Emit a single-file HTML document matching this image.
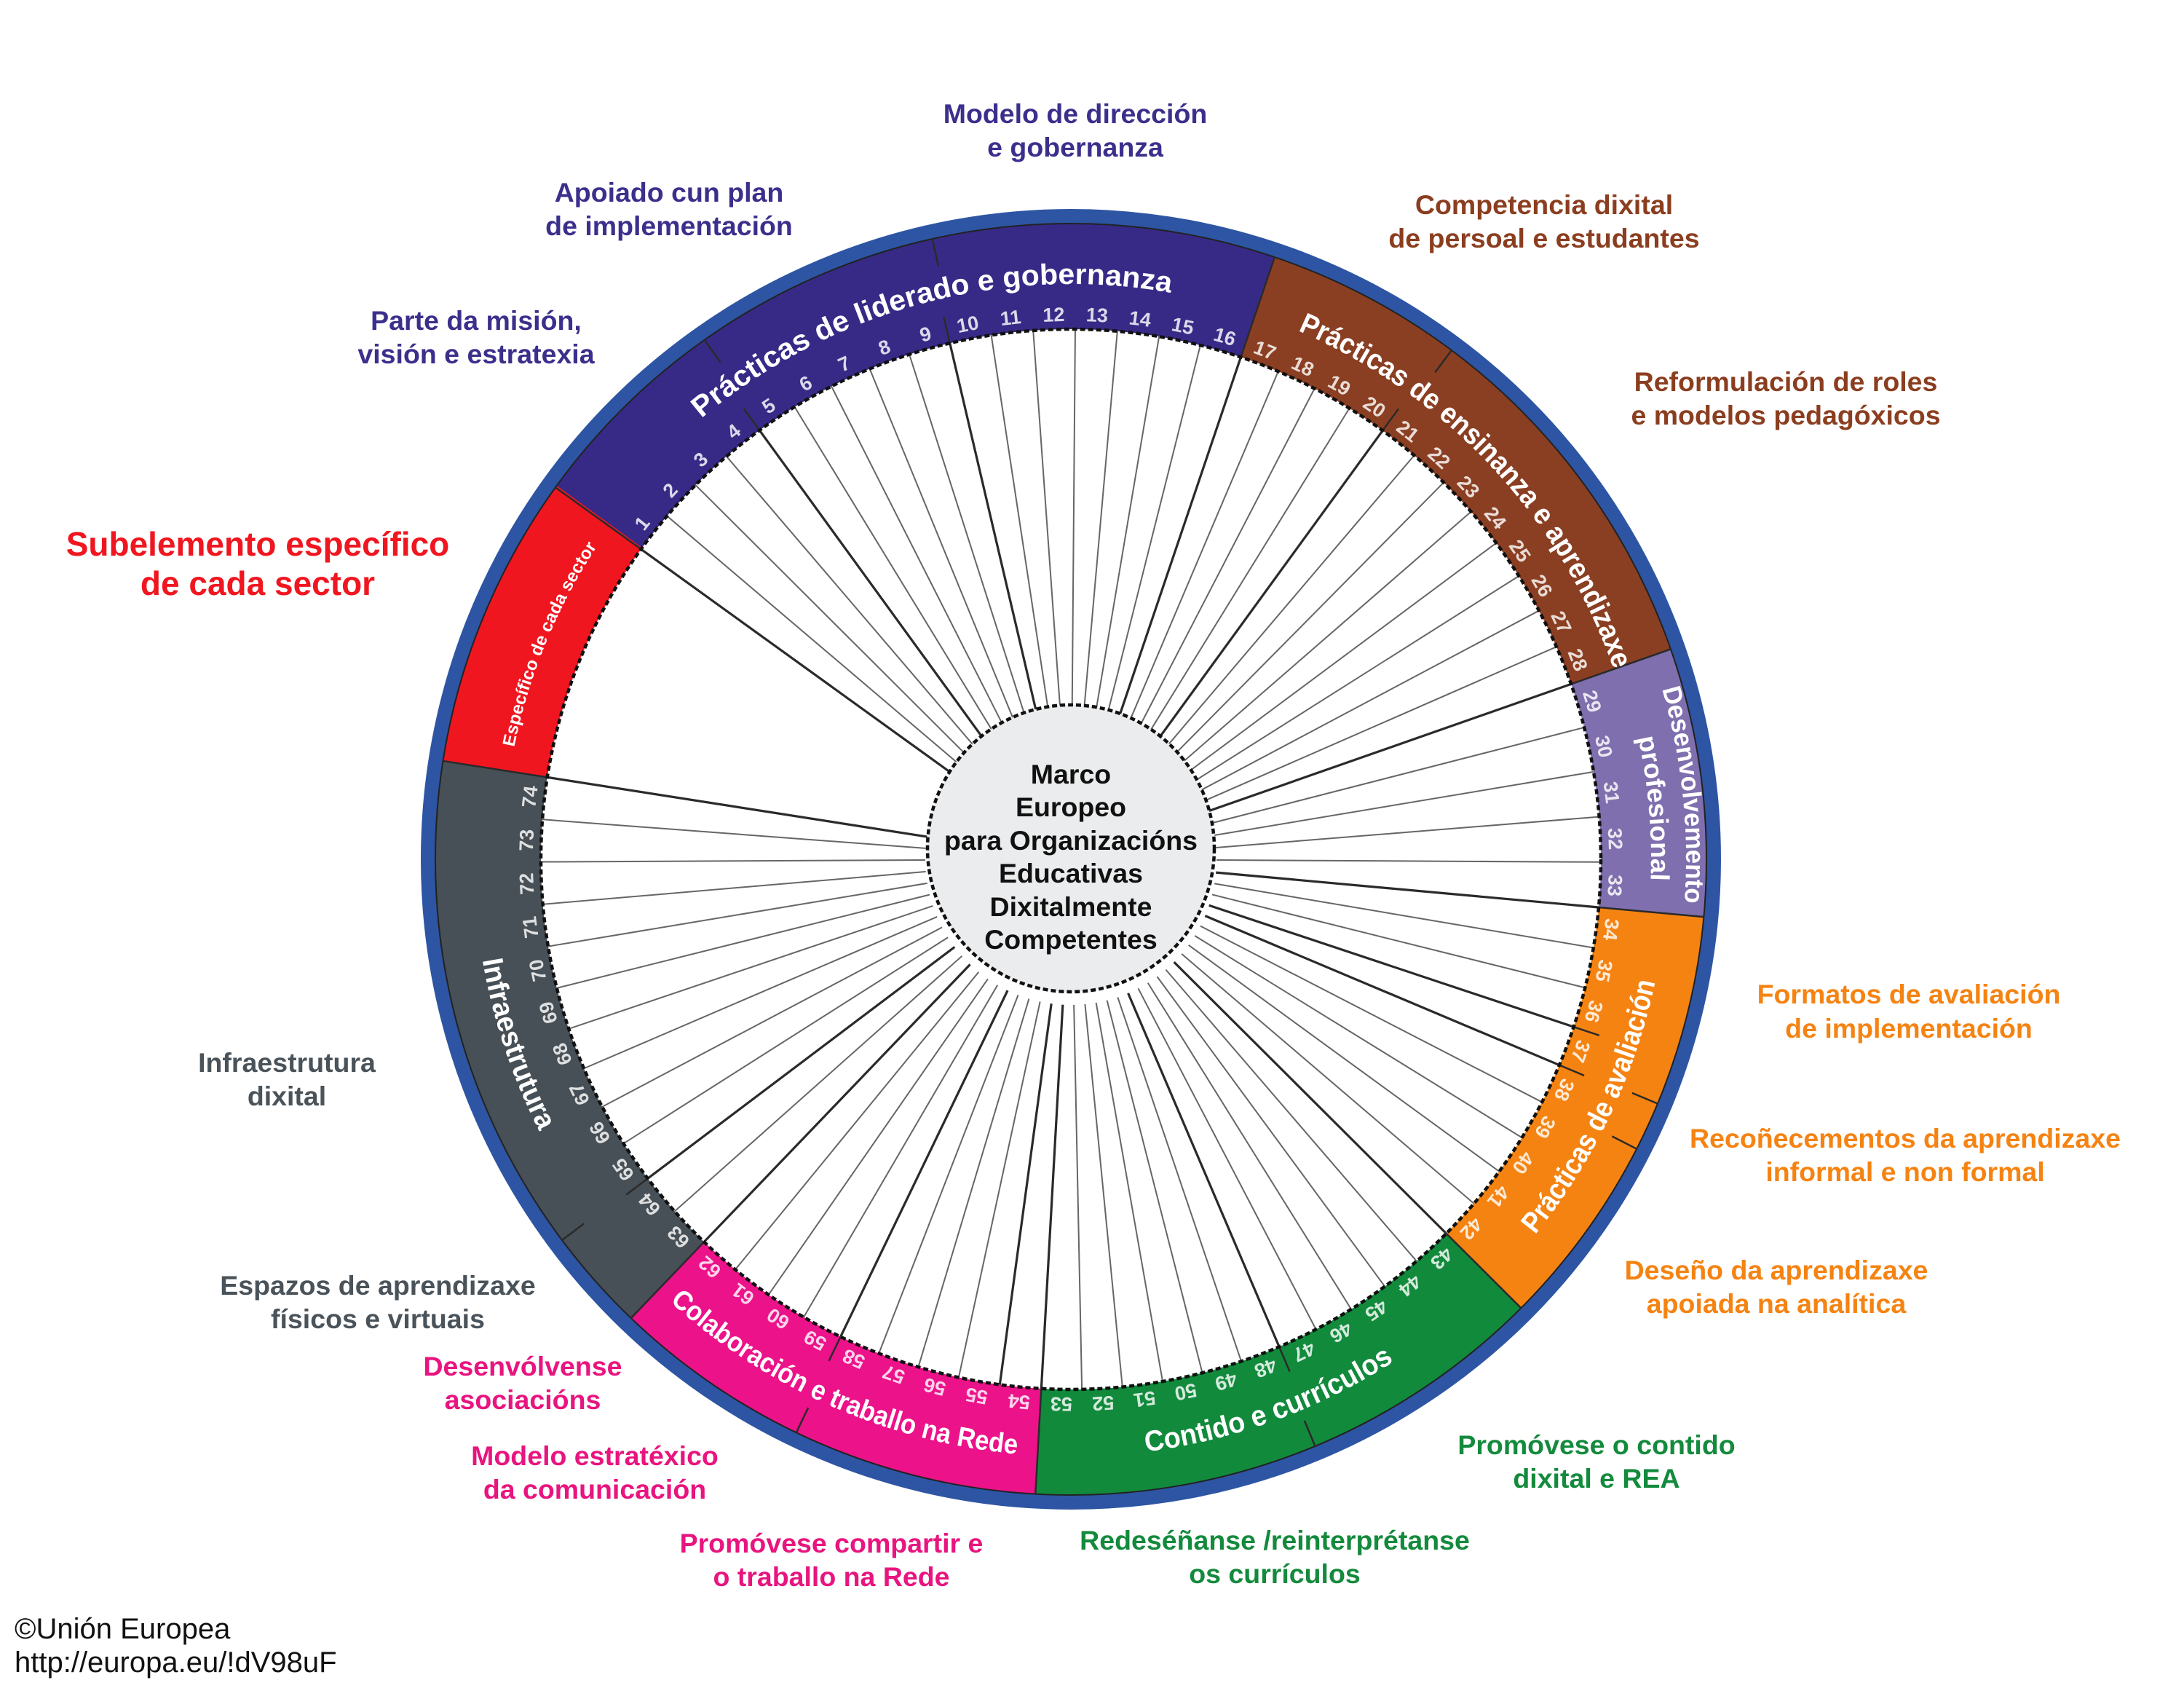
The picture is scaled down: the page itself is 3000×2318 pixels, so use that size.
<!DOCTYPE html>
<html><head><meta charset="utf-8"><style>
html,body{margin:0;padding:0;background:#fff;}
svg{display:block;}
text{font-family:"Liberation Sans","DejaVu Sans",sans-serif;}
.lab{font-weight:bold;font-size:37.5px;text-anchor:middle;}
.num{font-weight:bold;font-size:27px;fill:#fff;fill-opacity:0.82;text-anchor:middle;dominant-baseline:central;}
.tt{font-weight:bold;fill:#fff;}
</style></head><body>
<svg width="3000" height="2318" viewBox="0 0 3000 2318" xmlns="http://www.w3.org/2000/svg">
<defs>
<path id="cw790" d="M1471 1970 A790 790 0 0 1 1471 390 A790 790 0 0 1 1471 1970"/>
<path id="cw780" d="M1471 1960 A780 780 0 0 1 1471 400 A780 780 0 0 1 1471 1960"/>
<path id="cw845" d="M1471 2025 A845 845 0 0 1 1471 335 A845 845 0 0 1 1471 2025"/>
<path id="cw797" d="M1471 1977 A797 797 0 0 1 1471 383 A797 797 0 0 1 1471 1977"/>
<path id="ccw820" d="M1471 360 A820 820 0 0 0 1471 2000 A820 820 0 0 0 1471 360"/>
</defs>
<rect width="3000" height="2318" fill="#fff"/>
<circle cx="1471" cy="1180" r="883" fill="none" stroke="#2d55a3" stroke-width="20"/>
<g fill="none" stroke-width="146">
<circle cx="1471" cy="1180" r="800.5" stroke="#372a87" stroke-dasharray="1018.5 6000" transform="rotate(-144.2 1471 1180)"/>
<circle cx="1471" cy="1180" r="800.5" stroke="#8b3f22" stroke-dasharray="726.5 6000" transform="rotate(-71.3 1471 1180)"/>
<circle cx="1471" cy="1180" r="800.5" stroke="#7f6fae" stroke-dasharray="342.3 6000" transform="rotate(-19.3 1471 1180)"/>
<circle cx="1471" cy="1180" r="800.5" stroke="#f58312" stroke-dasharray="554.6 6000" transform="rotate(5.2 1471 1180)"/>
<circle cx="1471" cy="1180" r="800.5" stroke="#128a3c" stroke-dasharray="674.8 6000" transform="rotate(44.9 1471 1180)"/>
<circle cx="1471" cy="1180" r="800.5" stroke="#ec128a" stroke-dasharray="567.2 6000" transform="rotate(93.2 1471 1180)"/>
<circle cx="1471" cy="1180" r="800.5" stroke="#475056" stroke-dasharray="769.8 6000" transform="rotate(133.8 1471 1180)"/>
<circle cx="1471" cy="1180" r="800.5" stroke="#f01620" stroke-dasharray="378.6 6000" transform="rotate(188.9 1471 1180)"/>
</g>
<circle cx="1471" cy="1180" r="873" fill="none" stroke="#222" stroke-width="2"/>
<circle cx="1471" cy="1180" r="728" fill="#fff"/>
<g stroke="#2a2a2a" stroke-width="2.5">
<line x1="1471" y1="452" x2="1471" y2="307" transform="rotate(-54.2 1471 1180)"/>
<line x1="1471" y1="452" x2="1471" y2="307" transform="rotate(18.7 1471 1180)"/>
<line x1="1471" y1="452" x2="1471" y2="307" transform="rotate(70.7 1471 1180)"/>
<line x1="1471" y1="452" x2="1471" y2="307" transform="rotate(95.2 1471 1180)"/>
<line x1="1471" y1="452" x2="1471" y2="307" transform="rotate(134.9 1471 1180)"/>
<line x1="1471" y1="452" x2="1471" y2="307" transform="rotate(183.2 1471 1180)"/>
<line x1="1471" y1="452" x2="1471" y2="307" transform="rotate(223.8 1471 1180)"/>
<line x1="1471" y1="452" x2="1471" y2="307" transform="rotate(278.9 1471 1180)"/>
<line x1="1471" y1="345" x2="1471" y2="307" transform="rotate(-35.2 1471 1180)"/>
<line x1="1471" y1="345" x2="1471" y2="307" transform="rotate(-12.6 1471 1180)"/>
<line x1="1471" y1="345" x2="1471" y2="307" transform="rotate(36.8 1471 1180)"/>
<line x1="1471" y1="345" x2="1471" y2="307" transform="rotate(112.6 1471 1180)"/>
<line x1="1471" y1="345" x2="1471" y2="307" transform="rotate(117.1 1471 1180)"/>
<line x1="1471" y1="345" x2="1471" y2="307" transform="rotate(157.4 1471 1180)"/>
<line x1="1471" y1="345" x2="1471" y2="307" transform="rotate(205.6 1471 1180)"/>
<line x1="1471" y1="345" x2="1471" y2="307" transform="rotate(233.2 1471 1180)"/>
<line x1="1471" y1="452" x2="1471" y2="415" transform="rotate(-35.98 1471 1180)"/>
<line x1="1471" y1="452" x2="1471" y2="415" transform="rotate(-13.2 1471 1180)"/>
<line x1="1471" y1="452" x2="1471" y2="415" transform="rotate(36.03 1471 1180)"/>
<line x1="1471" y1="452" x2="1471" y2="415" transform="rotate(108.43 1471 1180)"/>
<line x1="1471" y1="452" x2="1471" y2="415" transform="rotate(112.84 1471 1180)"/>
<line x1="1471" y1="452" x2="1471" y2="415" transform="rotate(156.86 1471 1180)"/>
<line x1="1471" y1="452" x2="1471" y2="415" transform="rotate(205.76 1471 1180)"/>
<line x1="1471" y1="452" x2="1471" y2="415" transform="rotate(232.98 1471 1180)"/>
</g>
<g stroke="#666" stroke-width="2">
<line x1="1471" y1="452" x2="1471" y2="980" transform="rotate(-49.64 1471 1180)"/>
<line x1="1471" y1="452" x2="1471" y2="980" transform="rotate(-45.09 1471 1180)"/>
<line x1="1471" y1="452" x2="1471" y2="980" transform="rotate(-40.53 1471 1180)"/>
<line x1="1471" y1="452" x2="1471" y2="980" transform="rotate(-31.42 1471 1180)"/>
<line x1="1471" y1="452" x2="1471" y2="980" transform="rotate(-26.86 1471 1180)"/>
<line x1="1471" y1="452" x2="1471" y2="980" transform="rotate(-22.31 1471 1180)"/>
<line x1="1471" y1="452" x2="1471" y2="980" transform="rotate(-17.75 1471 1180)"/>
<line x1="1471" y1="452" x2="1471" y2="980" transform="rotate(-8.64 1471 1180)"/>
<line x1="1471" y1="452" x2="1471" y2="980" transform="rotate(-4.08 1471 1180)"/>
<line x1="1471" y1="452" x2="1471" y2="980" transform="rotate(0.47 1471 1180)"/>
<line x1="1471" y1="452" x2="1471" y2="980" transform="rotate(5.03 1471 1180)"/>
<line x1="1471" y1="452" x2="1471" y2="980" transform="rotate(9.58 1471 1180)"/>
<line x1="1471" y1="452" x2="1471" y2="980" transform="rotate(14.14 1471 1180)"/>
<line x1="1471" y1="452" x2="1471" y2="980" transform="rotate(23.03 1471 1180)"/>
<line x1="1471" y1="452" x2="1471" y2="980" transform="rotate(27.37 1471 1180)"/>
<line x1="1471" y1="452" x2="1471" y2="980" transform="rotate(31.7 1471 1180)"/>
<line x1="1471" y1="452" x2="1471" y2="980" transform="rotate(40.37 1471 1180)"/>
<line x1="1471" y1="452" x2="1471" y2="980" transform="rotate(44.7 1471 1180)"/>
<line x1="1471" y1="452" x2="1471" y2="980" transform="rotate(49.03 1471 1180)"/>
<line x1="1471" y1="452" x2="1471" y2="980" transform="rotate(53.37 1471 1180)"/>
<line x1="1471" y1="452" x2="1471" y2="980" transform="rotate(57.7 1471 1180)"/>
<line x1="1471" y1="452" x2="1471" y2="980" transform="rotate(62.03 1471 1180)"/>
<line x1="1471" y1="452" x2="1471" y2="980" transform="rotate(66.37 1471 1180)"/>
<line x1="1471" y1="452" x2="1471" y2="980" transform="rotate(75.6 1471 1180)"/>
<line x1="1471" y1="452" x2="1471" y2="980" transform="rotate(80.5 1471 1180)"/>
<line x1="1471" y1="452" x2="1471" y2="980" transform="rotate(85.4 1471 1180)"/>
<line x1="1471" y1="452" x2="1471" y2="980" transform="rotate(90.3 1471 1180)"/>
<line x1="1471" y1="452" x2="1471" y2="980" transform="rotate(99.61 1471 1180)"/>
<line x1="1471" y1="452" x2="1471" y2="980" transform="rotate(104.02 1471 1180)"/>
<line x1="1471" y1="452" x2="1471" y2="980" transform="rotate(117.26 1471 1180)"/>
<line x1="1471" y1="452" x2="1471" y2="980" transform="rotate(121.67 1471 1180)"/>
<line x1="1471" y1="452" x2="1471" y2="980" transform="rotate(126.08 1471 1180)"/>
<line x1="1471" y1="452" x2="1471" y2="980" transform="rotate(130.49 1471 1180)"/>
<line x1="1471" y1="452" x2="1471" y2="980" transform="rotate(139.29 1471 1180)"/>
<line x1="1471" y1="452" x2="1471" y2="980" transform="rotate(143.68 1471 1180)"/>
<line x1="1471" y1="452" x2="1471" y2="980" transform="rotate(148.07 1471 1180)"/>
<line x1="1471" y1="452" x2="1471" y2="980" transform="rotate(152.46 1471 1180)"/>
<line x1="1471" y1="452" x2="1471" y2="980" transform="rotate(161.25 1471 1180)"/>
<line x1="1471" y1="452" x2="1471" y2="980" transform="rotate(165.64 1471 1180)"/>
<line x1="1471" y1="452" x2="1471" y2="980" transform="rotate(170.03 1471 1180)"/>
<line x1="1471" y1="452" x2="1471" y2="980" transform="rotate(174.42 1471 1180)"/>
<line x1="1471" y1="452" x2="1471" y2="980" transform="rotate(178.81 1471 1180)"/>
<line x1="1471" y1="452" x2="1471" y2="980" transform="rotate(192.22 1471 1180)"/>
<line x1="1471" y1="452" x2="1471" y2="980" transform="rotate(196.73 1471 1180)"/>
<line x1="1471" y1="452" x2="1471" y2="980" transform="rotate(201.24 1471 1180)"/>
<line x1="1471" y1="452" x2="1471" y2="980" transform="rotate(210.27 1471 1180)"/>
<line x1="1471" y1="452" x2="1471" y2="980" transform="rotate(214.78 1471 1180)"/>
<line x1="1471" y1="452" x2="1471" y2="980" transform="rotate(219.29 1471 1180)"/>
<line x1="1471" y1="452" x2="1471" y2="980" transform="rotate(228.39 1471 1180)"/>
<line x1="1471" y1="452" x2="1471" y2="980" transform="rotate(237.58 1471 1180)"/>
<line x1="1471" y1="452" x2="1471" y2="980" transform="rotate(242.17 1471 1180)"/>
<line x1="1471" y1="452" x2="1471" y2="980" transform="rotate(246.76 1471 1180)"/>
<line x1="1471" y1="452" x2="1471" y2="980" transform="rotate(251.35 1471 1180)"/>
<line x1="1471" y1="452" x2="1471" y2="980" transform="rotate(255.94 1471 1180)"/>
<line x1="1471" y1="452" x2="1471" y2="980" transform="rotate(260.54 1471 1180)"/>
<line x1="1471" y1="452" x2="1471" y2="980" transform="rotate(265.13 1471 1180)"/>
<line x1="1471" y1="452" x2="1471" y2="980" transform="rotate(269.72 1471 1180)"/>
<line x1="1471" y1="452" x2="1471" y2="980" transform="rotate(274.31 1471 1180)"/>
</g>
<g stroke="#2a2a2a" stroke-width="3.2">
<line x1="1471" y1="452" x2="1471" y2="980" transform="rotate(-54.2 1471 1180)"/>
<line x1="1471" y1="452" x2="1471" y2="980" transform="rotate(-35.98 1471 1180)"/>
<line x1="1471" y1="452" x2="1471" y2="980" transform="rotate(-13.2 1471 1180)"/>
<line x1="1471" y1="452" x2="1471" y2="980" transform="rotate(18.7 1471 1180)"/>
<line x1="1471" y1="452" x2="1471" y2="980" transform="rotate(36.03 1471 1180)"/>
<line x1="1471" y1="452" x2="1471" y2="980" transform="rotate(70.7 1471 1180)"/>
<line x1="1471" y1="452" x2="1471" y2="980" transform="rotate(95.2 1471 1180)"/>
<line x1="1471" y1="452" x2="1471" y2="980" transform="rotate(108.43 1471 1180)"/>
<line x1="1471" y1="452" x2="1471" y2="980" transform="rotate(112.84 1471 1180)"/>
<line x1="1471" y1="452" x2="1471" y2="980" transform="rotate(134.9 1471 1180)"/>
<line x1="1471" y1="452" x2="1471" y2="980" transform="rotate(156.86 1471 1180)"/>
<line x1="1471" y1="452" x2="1471" y2="980" transform="rotate(183.2 1471 1180)"/>
<line x1="1471" y1="452" x2="1471" y2="980" transform="rotate(187.71 1471 1180)"/>
<line x1="1471" y1="452" x2="1471" y2="980" transform="rotate(205.76 1471 1180)"/>
<line x1="1471" y1="452" x2="1471" y2="980" transform="rotate(223.8 1471 1180)"/>
<line x1="1471" y1="452" x2="1471" y2="980" transform="rotate(232.98 1471 1180)"/>
<line x1="1471" y1="452" x2="1471" y2="980" transform="rotate(278.9 1471 1180)"/>
</g>
<circle cx="1471" cy="1180" r="728" fill="none" stroke="#111" stroke-width="4.5" stroke-dasharray="7 4"/>
<circle cx="1471" cy="1165" r="197" fill="#ebeced" stroke="#111" stroke-width="4.5" stroke-dasharray="7 4"/>
<g font-weight="bold" font-size="37.5" text-anchor="middle" fill="#111">
<text x="1471" y="1076">Marco</text>
<text x="1471" y="1121">Europeo</text>
<text x="1471" y="1167">para Organizacións</text>
<text x="1471" y="1212">Educativas</text>
<text x="1471" y="1258">Dixitalmente</text>
<text x="1471" y="1303">Competentes</text>
</g>
<g class="num">
<text class="num" x="1471" y="432" transform="rotate(-51.92 1471 1180)">1</text>
<text class="num" x="1471" y="432" transform="rotate(-47.37 1471 1180)">2</text>
<text class="num" x="1471" y="432" transform="rotate(-42.81 1471 1180)">3</text>
<text class="num" x="1471" y="432" transform="rotate(-38.26 1471 1180)">4</text>
<text class="num" x="1471" y="432" transform="rotate(-33.70 1471 1180)">5</text>
<text class="num" x="1471" y="432" transform="rotate(-29.14 1471 1180)">6</text>
<text class="num" x="1471" y="432" transform="rotate(-24.59 1471 1180)">7</text>
<text class="num" x="1471" y="432" transform="rotate(-20.03 1471 1180)">8</text>
<text class="num" x="1471" y="432" transform="rotate(-15.48 1471 1180)">9</text>
<text class="num" x="1471" y="432" transform="rotate(-10.92 1471 1180)">10</text>
<text class="num" x="1471" y="432" transform="rotate(-6.36 1471 1180)">11</text>
<text class="num" x="1471" y="432" transform="rotate(-1.81 1471 1180)">12</text>
<text class="num" x="1471" y="432" transform="rotate(2.75 1471 1180)">13</text>
<text class="num" x="1471" y="432" transform="rotate(7.30 1471 1180)">14</text>
<text class="num" x="1471" y="432" transform="rotate(11.86 1471 1180)">15</text>
<text class="num" x="1471" y="432" transform="rotate(16.42 1471 1180)">16</text>
<text class="num" x="1471" y="432" transform="rotate(20.87 1471 1180)">17</text>
<text class="num" x="1471" y="432" transform="rotate(25.2 1471 1180)">18</text>
<text class="num" x="1471" y="432" transform="rotate(29.53 1471 1180)">19</text>
<text class="num" x="1471" y="432" transform="rotate(33.87 1471 1180)">20</text>
<text class="num" x="1471" y="432" transform="rotate(38.2 1471 1180)">21</text>
<text class="num" x="1471" y="432" transform="rotate(42.53 1471 1180)">22</text>
<text class="num" x="1471" y="432" transform="rotate(46.87 1471 1180)">23</text>
<text class="num" x="1471" y="432" transform="rotate(51.2 1471 1180)">24</text>
<text class="num" x="1471" y="432" transform="rotate(55.53 1471 1180)">25</text>
<text class="num" x="1471" y="432" transform="rotate(59.87 1471 1180)">26</text>
<text class="num" x="1471" y="432" transform="rotate(64.2 1471 1180)">27</text>
<text class="num" x="1471" y="432" transform="rotate(68.53 1471 1180)">28</text>
<text class="num" x="1471" y="432" transform="rotate(73.15 1471 1180)">29</text>
<text class="num" x="1471" y="432" transform="rotate(78.05 1471 1180)">30</text>
<text class="num" x="1471" y="432" transform="rotate(82.95 1471 1180)">31</text>
<text class="num" x="1471" y="432" transform="rotate(87.85 1471 1180)">32</text>
<text class="num" x="1471" y="432" transform="rotate(92.75 1471 1180)">33</text>
<text class="num" x="1471" y="432" transform="rotate(97.41 1471 1180)">34</text>
<text class="num" x="1471" y="432" transform="rotate(101.82 1471 1180)">35</text>
<text class="num" x="1471" y="432" transform="rotate(106.23 1471 1180)">36</text>
<text class="num" x="1471" y="432" transform="rotate(110.64 1471 1180)">37</text>
<text class="num" x="1471" y="432" transform="rotate(115.05 1471 1180)">38</text>
<text class="num" x="1471" y="432" transform="rotate(119.46 1471 1180)">39</text>
<text class="num" x="1471" y="432" transform="rotate(123.87 1471 1180)">40</text>
<text class="num" x="1471" y="432" transform="rotate(128.28 1471 1180)">41</text>
<text class="num" x="1471" y="432" transform="rotate(132.69 1471 1180)">42</text>
<text class="num" x="1471" y="432" transform="rotate(137.1 1471 1180)">43</text>
<text class="num" x="1471" y="432" transform="rotate(141.49 1471 1180)">44</text>
<text class="num" x="1471" y="432" transform="rotate(145.88 1471 1180)">45</text>
<text class="num" x="1471" y="432" transform="rotate(150.27 1471 1180)">46</text>
<text class="num" x="1471" y="432" transform="rotate(154.66 1471 1180)">47</text>
<text class="num" x="1471" y="432" transform="rotate(159.05 1471 1180)">48</text>
<text class="num" x="1471" y="432" transform="rotate(163.44 1471 1180)">49</text>
<text class="num" x="1471" y="432" transform="rotate(167.83 1471 1180)">50</text>
<text class="num" x="1471" y="432" transform="rotate(172.22 1471 1180)">51</text>
<text class="num" x="1471" y="432" transform="rotate(176.61 1471 1180)">52</text>
<text class="num" x="1471" y="432" transform="rotate(181.0 1471 1180)">53</text>
<text class="num" x="1471" y="432" transform="rotate(185.46 1471 1180)">54</text>
<text class="num" x="1471" y="432" transform="rotate(189.97 1471 1180)">55</text>
<text class="num" x="1471" y="432" transform="rotate(194.48 1471 1180)">56</text>
<text class="num" x="1471" y="432" transform="rotate(198.99 1471 1180)">57</text>
<text class="num" x="1471" y="432" transform="rotate(203.5 1471 1180)">58</text>
<text class="num" x="1471" y="432" transform="rotate(208.01 1471 1180)">59</text>
<text class="num" x="1471" y="432" transform="rotate(212.52 1471 1180)">60</text>
<text class="num" x="1471" y="432" transform="rotate(217.03 1471 1180)">61</text>
<text class="num" x="1471" y="432" transform="rotate(221.54 1471 1180)">62</text>
<text class="num" x="1471" y="432" transform="rotate(226.1 1471 1180)">63</text>
<text class="num" x="1471" y="432" transform="rotate(230.69 1471 1180)">64</text>
<text class="num" x="1471" y="432" transform="rotate(235.28 1471 1180)">65</text>
<text class="num" x="1471" y="432" transform="rotate(239.87 1471 1180)">66</text>
<text class="num" x="1471" y="432" transform="rotate(244.46 1471 1180)">67</text>
<text class="num" x="1471" y="432" transform="rotate(249.05 1471 1180)">68</text>
<text class="num" x="1471" y="432" transform="rotate(253.65 1471 1180)">69</text>
<text class="num" x="1471" y="432" transform="rotate(258.24 1471 1180)">70</text>
<text class="num" x="1471" y="432" transform="rotate(262.83 1471 1180)">71</text>
<text class="num" x="1471" y="432" transform="rotate(267.42 1471 1180)">72</text>
<text class="num" x="1471" y="432" transform="rotate(272.01 1471 1180)">73</text>
<text class="num" x="1471" y="432" transform="rotate(276.6 1471 1180)">74</text>
</g>
<g class="tt" text-anchor="middle">
<g transform="rotate(-15 1471 1180)"><text font-size="40"><textPath href="#cw790" startOffset="50%" textLength="689" lengthAdjust="spacingAndGlyphs">Prácticas de liderado e gobernanza</textPath></text></g>
<g transform="rotate(47 1471 1180)"><text font-size="40"><textPath href="#cw790" startOffset="50%" textLength="655" lengthAdjust="spacingAndGlyphs">Prácticas de ensinanza e aprendizaxe</textPath></text></g>
<g transform="rotate(84 1471 1180)"><text font-size="36"><textPath href="#cw845" startOffset="50%" textLength="297" lengthAdjust="spacingAndGlyphs">Desenvolvemento</textPath></text></g>
<g transform="rotate(85 1471 1180)"><text font-size="36"><textPath href="#cw797" startOffset="50%" textLength="198" lengthAdjust="spacingAndGlyphs">profesional</textPath></text></g>
<g transform="rotate(292.4 1471 1180)"><text font-size="24"><textPath href="#cw780" startOffset="50%" textLength="300" lengthAdjust="spacingAndGlyphs">Específico de cada sector</textPath></text></g>
<g transform="rotate(-64.6 1471 1180)"><text font-size="40"><textPath href="#ccw820" startOffset="50%" textLength="388" lengthAdjust="spacingAndGlyphs">Prácticas de avaliación</textPath></text></g>
<g transform="rotate(-20 1471 1180)"><text font-size="40"><textPath href="#ccw820" startOffset="50%" textLength="366" lengthAdjust="spacingAndGlyphs">Contido e currículos</textPath></text></g>
<g transform="rotate(23.7 1471 1180)"><text font-size="38"><textPath href="#ccw820" startOffset="50%" textLength="530" lengthAdjust="spacingAndGlyphs">Colaboración e traballo na Rede</textPath></text></g>
<g transform="rotate(71.6 1471 1180)"><text font-size="40"><textPath href="#ccw820" startOffset="50%" textLength="249" lengthAdjust="spacingAndGlyphs">Infraestrutura</textPath></text></g>
</g>
<g fill="#3b2f8c">
<text class="lab" x="1477" y="169">Modelo de dirección</text>
<text class="lab" x="1477" y="215">e gobernanza</text>
<text class="lab" x="919" y="277">Apoiado cun plan</text>
<text class="lab" x="919" y="323">de implementación</text>
<text class="lab" x="654" y="453">Parte da misión,</text>
<text class="lab" x="654" y="499">visión e estratexia</text>
</g>
<g fill="#8b3e1f">
<text class="lab" x="2121" y="294">Competencia dixital</text>
<text class="lab" x="2121" y="340">de persoal e estudantes</text>
<text class="lab" x="2453" y="537">Reformulación de roles</text>
<text class="lab" x="2453" y="583">e modelos pedagóxicos</text>
</g>
<g fill="#f01620">
<text class="lab" style="font-size:46px" x="354" y="763">Subelemento específico</text>
<text class="lab" style="font-size:46px" x="354" y="817">de cada sector</text>
</g>
<g fill="#f58312">
<text class="lab" x="2622" y="1378">Formatos de avaliación</text>
<text class="lab" x="2622" y="1425">de implementación</text>
<text class="lab" x="2617" y="1576">Recoñecementos da aprendizaxe</text>
<text class="lab" x="2617" y="1622">informal e non formal</text>
<text class="lab" x="2440" y="1757">Deseño da aprendizaxe</text>
<text class="lab" x="2440" y="1803">apoiada na analítica</text>
</g>
<g fill="#138a3c">
<text class="lab" x="2193" y="1997">Promóvese o contido</text>
<text class="lab" x="2193" y="2043">dixital e REA</text>
<text class="lab" x="1751" y="2128">Redeséñanse /reinterprétanse</text>
<text class="lab" x="1751" y="2174">os currículos</text>
</g>
<g fill="#e8147f">
<text class="lab" x="1142" y="2132">Promóvese compartir e</text>
<text class="lab" x="1142" y="2178">o traballo na Rede</text>
<text class="lab" x="817" y="2012">Modelo estratéxico</text>
<text class="lab" x="817" y="2058">da comunicación</text>
<text class="lab" x="718" y="1889">Desenvólvense</text>
<text class="lab" x="718" y="1935">asociacións</text>
</g>
<g fill="#4a535a">
<text class="lab" x="519" y="1778">Espazos de aprendizaxe</text>
<text class="lab" x="519" y="1824">físicos e virtuais</text>
<text class="lab" x="394" y="1472">Infraestrutura</text>
<text class="lab" x="394" y="1518">dixital</text>
</g>
<g font-size="40" fill="#111">
<text x="20" y="2250">©Unión Europea</text>
<text x="20" y="2296">http://europa.eu/!dV98uF</text>
</g>
</svg>
</body></html>
